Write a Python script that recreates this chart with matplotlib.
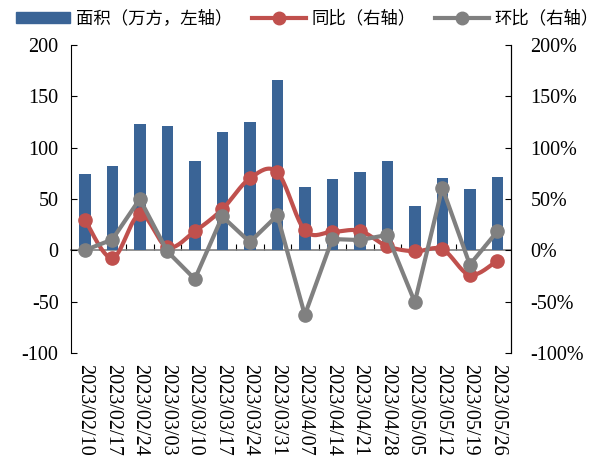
import numpy as np
import matplotlib
matplotlib.use('Agg')
import matplotlib.pyplot as plt
from matplotlib.ticker import FuncFormatter
from matplotlib.lines import Line2D
from matplotlib.patches import Patch

# data
dates = ['2023/02/10', '2023/02/17', '2023/02/24', '2023/03/03', '2023/03/10', '2023/03/17',
         '2023/03/24', '2023/03/31', '2023/04/07', '2023/04/14', '2023/04/21', '2023/04/28',
         '2023/05/05', '2023/05/12', '2023/05/19', '2023/05/26']
area = [74, 82, 123, 121, 87, 115.5, 124.5, 166, 62, 69, 76, 87, 43.5, 70, 60, 71]
yoy = [30, -7.5, 35, 3, 18.5, 40, 70, 76, 19.5, 18, 19, 4, -1, 1, -24, -10]
mom = [0, 10.5, 50, -1, -28, 33, 8, 34, -63, 11, 10, 15, -50.5, 61, -14, 18.5]

BLUE = '#3A6496'
RED = '#C0504D'
GREY = '#808080'

plt.rcParams['font.family'] = ['Liberation Serif', 'DejaVu Serif']
plt.rcParams['axes.unicode_minus'] = False


def smooth(xs, ys, n=20):
    # catmull-rom style smoothing, like an Excel smoothed line
    xs = np.asarray(xs, float)
    ys = np.asarray(ys, float)
    px = np.concatenate([[xs[0]], xs, [xs[-1]]])
    py = np.concatenate([[ys[0]], ys, [ys[-1]]])
    ox, oy = [], []
    for i in range(1, len(px) - 2):
        p0, p1, p2, p3 = [np.array([px[j], py[j]]) for j in (i - 1, i, i + 1, i + 2)]
        c1 = p1 + (p2 - p0) / 6
        c2 = p2 - (p3 - p1) / 6
        t = np.linspace(0, 1, n)[:, None]
        pts = (1 - t) ** 3 * p1 + 3 * (1 - t) ** 2 * t * c1 + 3 * (1 - t) * t ** 2 * c2 + t ** 3 * p2
        ox.extend(pts[:, 0])
        oy.extend(pts[:, 1])
    return ox, oy


fig = plt.figure(figsize=(6.07, 4.66), dpi=100)
ax = fig.add_axes([0.117, 0.2425, 0.725, 0.661])
x = np.arange(len(dates))

ax.bar(x, area, width=0.42, color=BLUE, zorder=2)
ax.set_xlim(-0.5, len(dates) - 0.5)
ax.set_ylim(-100, 200)
ax.set_yticks(np.arange(-100, 201, 50))
ax.set_xticks(x)
ax.set_xticklabels(dates, rotation=-90, fontsize=14.5)
ax.tick_params(axis='x', length=0, pad=8)
ax.tick_params(axis='y', direction='in', length=4.5, labelsize=14.5, pad=9)
for s in ['top', 'bottom']:
    ax.spines[s].set_visible(False)

# category axis crossing at zero
sec = ax.secondary_xaxis(0, transform=ax.transData)
sec.set_xticks(np.arange(0.5, len(dates) - 1, 1))
sec.tick_params(axis='x', direction='in', length=4.5, labelbottom=False, color='black')
sec.spines['bottom'].set_color(GREY)
sec.spines['bottom'].set_linewidth(1.2)

ax2 = ax.twinx()
sx, sy = smooth(x, yoy)
ax2.plot(sx, sy, color=RED, lw=3, zorder=3)
ax2.plot(x, yoy, 'o', color=RED, ms=9.5, zorder=3)
ax2.plot(x, mom, '-o', color=GREY, lw=3, ms=9.5, zorder=4)
ax2.set_ylim(-100, 200)
ax2.set_yticks(np.arange(-100, 201, 50))
ax2.yaxis.set_major_formatter(FuncFormatter(lambda v, p: f'{v:.0f}%'))
ax2.tick_params(axis='y', direction='in', length=4.5, labelsize=14.5, pad=14)
for s in ['top', 'bottom', 'left']:
    ax2.spines[s].set_visible(False)

handles = [Patch(color=BLUE),
           Line2D([], [], color=RED, lw=3, marker='o', ms=9),
           Line2D([], [], color=GREY, lw=3, marker='o', ms=9)]
labels = ['面积（万方，左轴）', '同比（右轴）', '环比（右轴）']
fig.legend(handles, labels, loc='center', bbox_to_anchor=(0.507, 0.960), ncol=3,
           frameon=False, prop={'family': ['Noto Sans CJK SC'], 'size': 12.5},
           handlelength=3.1, handleheight=0.53, handletextpad=0.35, columnspacing=1.1,
           borderaxespad=0, borderpad=0)

fig.savefig('out.png', dpi=100)
